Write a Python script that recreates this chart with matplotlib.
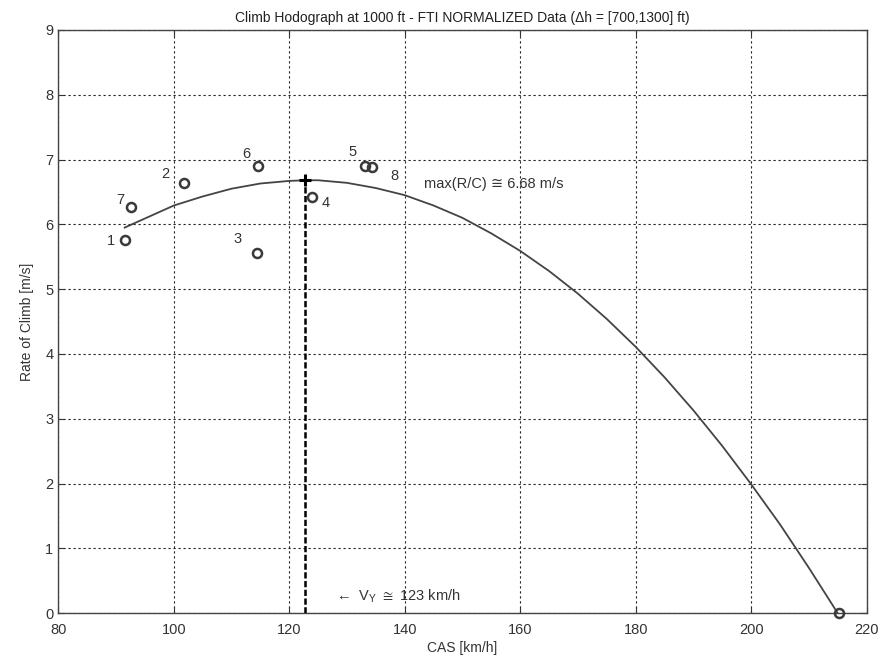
import matplotlib
matplotlib.use("Agg")
import matplotlib.pyplot as plt

plt.rcParams['font.family'] = ['Liberation Sans', 'DejaVu Sans']
plt.rcParams['mathtext.fontset'] = 'custom'
plt.rcParams['mathtext.rm'] = 'Liberation Sans'

# Measured data points (CAS [km/h], R/C [m/s])
point_labels = ['1', '2', '3', '4', '5', '6', '7', '8', '']
cas_points = [91.5, 101.7, 114.4, 124.0, 133.2, 114.6, 92.6, 134.4, 215.2]
rc_points = [5.76, 6.64, 5.56, 6.42, 6.90, 6.90, 6.26, 6.88, 0.0]
label_x = [89.2, 98.5, 111.0, 126.3, 130.9, 112.5, 90.8, 138.2]
label_y = [5.75, 6.77, 5.77, 6.33, 7.12, 7.09, 6.37, 6.75]

# Fitted hodograph curve
curve_cas = [91.5, 95, 100, 105, 110, 115, 120, 122.7, 125, 130, 135, 140,
             145, 150, 155, 160, 165, 170, 175, 180, 185, 190, 195, 200,
             205, 210, 215]
curve_rc = [5.95, 6.09, 6.29, 6.43, 6.55, 6.63, 6.67, 6.68, 6.68, 6.64, 6.56,
            6.45, 6.29, 6.10, 5.86, 5.59, 5.28, 4.93, 4.54, 4.11, 3.64, 3.13,
            2.58, 1.99, 1.37, 0.70, 0.00]

vy_cas = 122.7
max_rc = 6.68

x_ticks = [80, 100, 120, 140, 160, 180, 200, 220]
y_ticks = [0, 1, 2, 3, 4, 5, 6, 7, 8, 9]

fig = plt.figure(figsize=(8.83, 6.61), dpi=100)
ax = fig.add_axes([0.066, 0.0722, 0.9155, 0.8826])

ax.set_xlim(80, 220)
ax.set_ylim(0, 9)
ax.set_xticks(x_ticks)
ax.set_yticks(y_ticks)
ax.grid(True, color='#222222', linestyle=(0, (2, 2.5)), linewidth=0.8)
ax.set_axisbelow(True)

ax.plot(curve_cas, curve_rc, color='#444444', linewidth=1.3, zorder=3)
ax.plot(cas_points, rc_points, linestyle='none', marker='o', markersize=6.5,
        markerfacecolor='none', markeredgecolor='#3a3a3a', markeredgewidth=1.8,
        zorder=4, clip_on=False)
for lab, lx, ly in zip(point_labels, label_x, label_y):
    ax.text(lx, ly, lab, fontsize=10.5, color='#333333', ha='center', va='center')

ax.plot([vy_cas, vy_cas], [0, max_rc], color='black', linewidth=1.8,
        linestyle=(0, (2.5, 1.0)), zorder=5)
ax.plot([vy_cas], [max_rc], marker='+', color='black', markersize=9,
        markeredgewidth=2.2, zorder=6)

ax.text(143.3, 6.63, 'max(R/C) ≅ 6.68 m/s', fontsize=10.5, color='#333333',
        ha='left', va='center')
ax.text(127.7, 0.27, '$\\leftarrow$ V$_\\mathregular{Y}$ $\\cong$ 123 km/h',
        fontsize=10.5, color='#333333', ha='left', va='center')

ax.set_title('Climb Hodograph at 1000 ft - FTI NORMALIZED Data (Δh = [700,1300] ft)',
             fontsize=10, color='#222222', pad=6)
ax.set_xlabel('CAS [km/h]', fontsize=10, color='#333333', labelpad=3)
ax.set_ylabel('Rate of Climb [m/s]', fontsize=10, color='#333333', labelpad=8)

ax.tick_params(direction='in', top=True, right=True, length=4, width=0.8,
               labelsize=10.5, colors='#333333')
ax.tick_params(axis='x', pad=7)
for s in ax.spines.values():
    s.set_color('#444444')
    s.set_linewidth(1.0)

fig.savefig('out.png', dpi=100)
